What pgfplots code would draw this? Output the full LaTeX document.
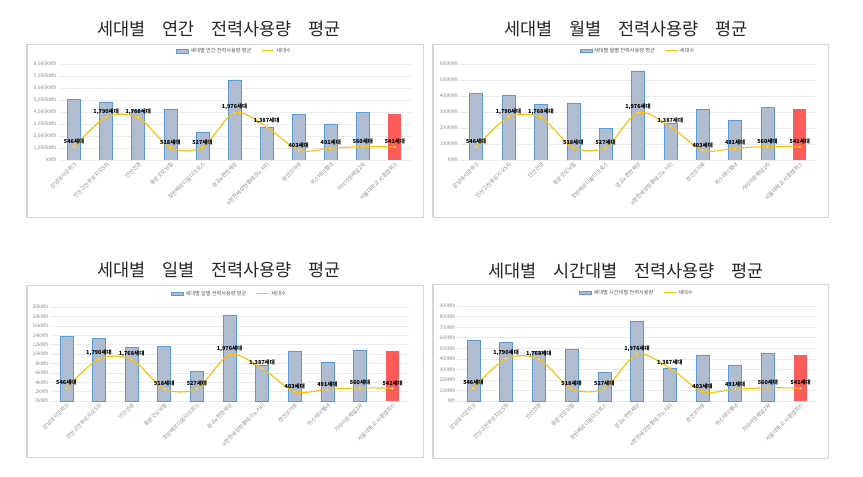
\documentclass[border=0pt]{standalone}
\usepackage{pgfplots}
\pgfplotsset{compat=1.18}
\usepackage{pgfplotstable}
\usepackage{fontspec}
\setmainfont{Noto Sans CJK KR}
\definecolor{barf}{HTML}{B0BCD0}
\definecolor{barb}{HTML}{5B9BD5}
\definecolor{redb}{HTML}{FF5B5B}
\definecolor{gold}{HTML}{FFC000}
\definecolor{gridc}{HTML}{ECECEC}
\definecolor{tickc}{HTML}{8C8C8C}
\definecolor{legc}{HTML}{595959}
\definecolor{framec}{HTML}{D4D4D4}
\definecolor{titc}{HTML}{262626}

\pgfplotstableread{
x annual monthly daily hourly hh
0 5050 415 13.7 572 546
1 4850 402 13.3 553 1790
2 4150 346 11.4 474 1768
3 4250 355 11.7 487 518
4 2330 196 6.4 268 527
5 6670 557 18.3 760 1976
6 2720 228 7.5 312 1387
7 3800 318 10.5 437 403
8 3000 249 8.3 343 491
9 3970 330 10.9 455 560
}\blue
\pgfplotstableread{
x annual monthly daily hourly hh
10 3830 320 10.6 440 541
}\red

\pgfplotsset{
  panel/.style={scale only axis, anchor=south west, xmin=-0.5, xmax=10.5},
  prim/.style={panel, ybar, bar width=13pt, ymin=0,
    ymajorgrids, grid style={draw=gridc, line width=0.5pt},
    axis line style={draw=none}, major tick length=0pt,
    xtick={0,...,10},
    xticklabels={강남데시앙파크,안산고잔푸르지오5차,안산선경,동문굿모닝힐,호반베르디움더크로스,광교e편한세상,e편한세상현풍테크노시티,경산코아루,위스테이별내,가야아창제일2차,서울대학교 시흥캠퍼스},
    tick label style={font=\fontsize{5.4}{6}\selectfont, text=tickc},
    yticklabel style={font=\fontsize{5}{6}\selectfont, inner sep=1.5pt},
    xticklabel style={rotate=45, anchor=north east, inner sep=1pt},
    legend style={at={(0.5,1)}, anchor=south, yshift=6pt, draw=none, fill=none,
      legend columns=2, font=\fontsize{5.2}{6}\selectfont, text=legc,
      /tikz/every even column/.append style={column sep=8pt}},
  },
  sec/.style={panel, hide axis, ymin=0, ymax=4000, clip=false},
  barplot/.style={fill=barf, draw=barb, line width=0.5pt, bar shift=0pt,
    legend image code/.code={\draw[fill=barf, draw=barb, line width=0.4pt] (0pt,-1.8pt) rectangle (12pt,1.8pt);}},
  redplot/.style={fill=redb, draw=none, bar shift=0pt, forget plot},
  lineleg/.style={legend image code/.code={\draw[draw=gold, line width=1pt] (0pt,0pt)--(12pt,0pt);}},
  hhline/.style={draw=gold, line width=1.1pt, smooth, mark=*, mark size=1.2pt,
    mark options={fill=gold!25, draw=gold, line width=0.4pt},
    point meta=y, nodes near coords={\pgfmathprintnumber[assume math mode=true,1000 sep={,},fixed,precision=0]{\pgfplotspointmeta}세대},
    every node near coord/.append style={font=\fontsize{5.5}{6}\selectfont\bfseries, text=black, anchor=south, yshift=1.5pt, inner sep=1pt}},
}

\begin{document}
\begin{tikzpicture}
\useasboundingbox (0pt,0pt) rectangle (863pt,477pt);
\fill[white] (0pt,0pt) rectangle (863pt,477pt);
% frames
\draw[framec, line width=0.6pt] (27pt,433pt) rectangle (423pt,260pt);
\draw[framec, line width=1.6pt] (27pt,433pt) -- (27pt,260pt);
\draw[framec, line width=0.6pt] (433pt,433pt) rectangle (828pt,260pt);
\draw[framec, line width=1.6pt] (433pt,433pt) -- (433pt,260pt);
\draw[framec, line width=0.6pt] (27pt,192pt) rectangle (423pt,20pt);
\draw[framec, line width=1.6pt] (27pt,192pt) -- (27pt,20pt);
\draw[framec, line width=0.6pt] (433pt,193pt) rectangle (828pt,19pt);
\draw[framec, line width=1.6pt] (433pt,193pt) -- (433pt,19pt);
% titles
\node[font=\fontsize{17.5}{18}\selectfont, text=titc] at (219pt,448pt) {세대별\hspace{0.95em}연간\hspace{0.95em}전력사용량\hspace{0.95em}평균};
\node[font=\fontsize{17.5}{18}\selectfont, text=titc] at (626pt,448pt) {세대별\hspace{0.95em}월별\hspace{0.95em}전력사용량\hspace{0.95em}평균};
\node[font=\fontsize{17.5}{18}\selectfont, text=titc] at (219pt,207pt) {세대별\hspace{0.95em}일별\hspace{0.95em}전력사용량\hspace{0.95em}평균};
\node[font=\fontsize{17.5}{18}\selectfont, text=titc] at (626pt,206pt) {세대별\hspace{0.95em}시간대별\hspace{0.95em}전력사용량\hspace{0.95em}평균};

% ---------- annual
\begin{axis}[prim, at={(58pt,317pt)}, width=353pt, height=96pt, ymax=8000,
  ytick={0,1000,...,8000},
  yticklabels={kWh,{1,000kWh},{2,000kWh},{3,000kWh},{4,000kWh},{5,000kWh},{6,000kWh},{7,000kWh},{8,000kWh}}]
\addplot[barplot] table[x=x,y=annual]{\blue};
\addlegendentry{세대별 연간 전력사용량 평균}
\addplot[redplot] table[x=x,y=annual]{\red};
\addlegendimage{lineleg}
\addlegendentry{세대수}
\end{axis}
\begin{axis}[sec, at={(58pt,317pt)}, width=353pt, height=96pt]
\addplot[hhline] coordinates {(0,546)(1,1790)(2,1768)(3,518)(4,527)(5,1976)(6,1387)(7,403)(8,491)(9,560)(10,541)};
\end{axis}

% ---------- monthly
\begin{axis}[prim, at={(460pt,317pt)}, width=356pt, height=96pt, ymax=600,
  ytick={0,100,...,600},
  yticklabels={kWh,100kWh,200kWh,300kWh,400kWh,500kWh,600kWh}]
\addplot[barplot] table[x=x,y=monthly]{\blue};
\addlegendentry{세대별 월별 전력사용량 평균}
\addplot[redplot] table[x=x,y=monthly]{\red};
\addlegendimage{lineleg}
\addlegendentry{세대수}
\end{axis}
\begin{axis}[sec, at={(460pt,317pt)}, width=356pt, height=96pt]
\addplot[hhline] coordinates {(0,546)(1,1790)(2,1768)(3,518)(4,527)(5,1976)(6,1387)(7,403)(8,491)(9,560)(10,541)};
\end{axis}

% ---------- daily
\begin{axis}[prim, at={(50pt,76pt)}, width=359pt, height=94pt, ymax=20,
  ytick={0,2,...,20},
  yticklabels={0kWh,2kWh,4kWh,6kWh,8kWh,10kWh,12kWh,14kWh,16kWh,18kWh,20kWh}]
\addplot[barplot] table[x=x,y=daily]{\blue};
\addlegendentry{세대별 일별 전력사용량 평균}
\addplot[redplot] table[x=x,y=daily]{\red};
\addlegendimage{lineleg}
\addlegendentry{세대수}
\end{axis}
\begin{axis}[sec, at={(50pt,76pt)}, width=359pt, height=94pt]
\addplot[hhline] coordinates {(0,546)(1,1790)(2,1768)(3,518)(4,527)(5,1976)(6,1387)(7,403)(8,491)(9,560)(10,541)};
\end{axis}

% ---------- hourly
\begin{axis}[prim, at={(457pt,76pt)}, width=360pt, height=95pt, ymax=900,
  ytick={0,100,...,900},
  yticklabels={Wh,100Wh,200Wh,300Wh,400Wh,500Wh,600Wh,700Wh,800Wh,900Wh}]
\addplot[barplot] table[x=x,y=hourly]{\blue};
\addlegendentry{세대별 시간대별 전력사용량}
\addplot[redplot] table[x=x,y=hourly]{\red};
\addlegendimage{lineleg}
\addlegendentry{세대수}
\end{axis}
\begin{axis}[sec, at={(457pt,76pt)}, width=360pt, height=95pt]
\addplot[hhline] coordinates {(0,546)(1,1790)(2,1768)(3,518)(4,527)(5,1976)(6,1387)(7,403)(8,491)(9,560)(10,541)};
\end{axis}
\end{tikzpicture}
\end{document}
